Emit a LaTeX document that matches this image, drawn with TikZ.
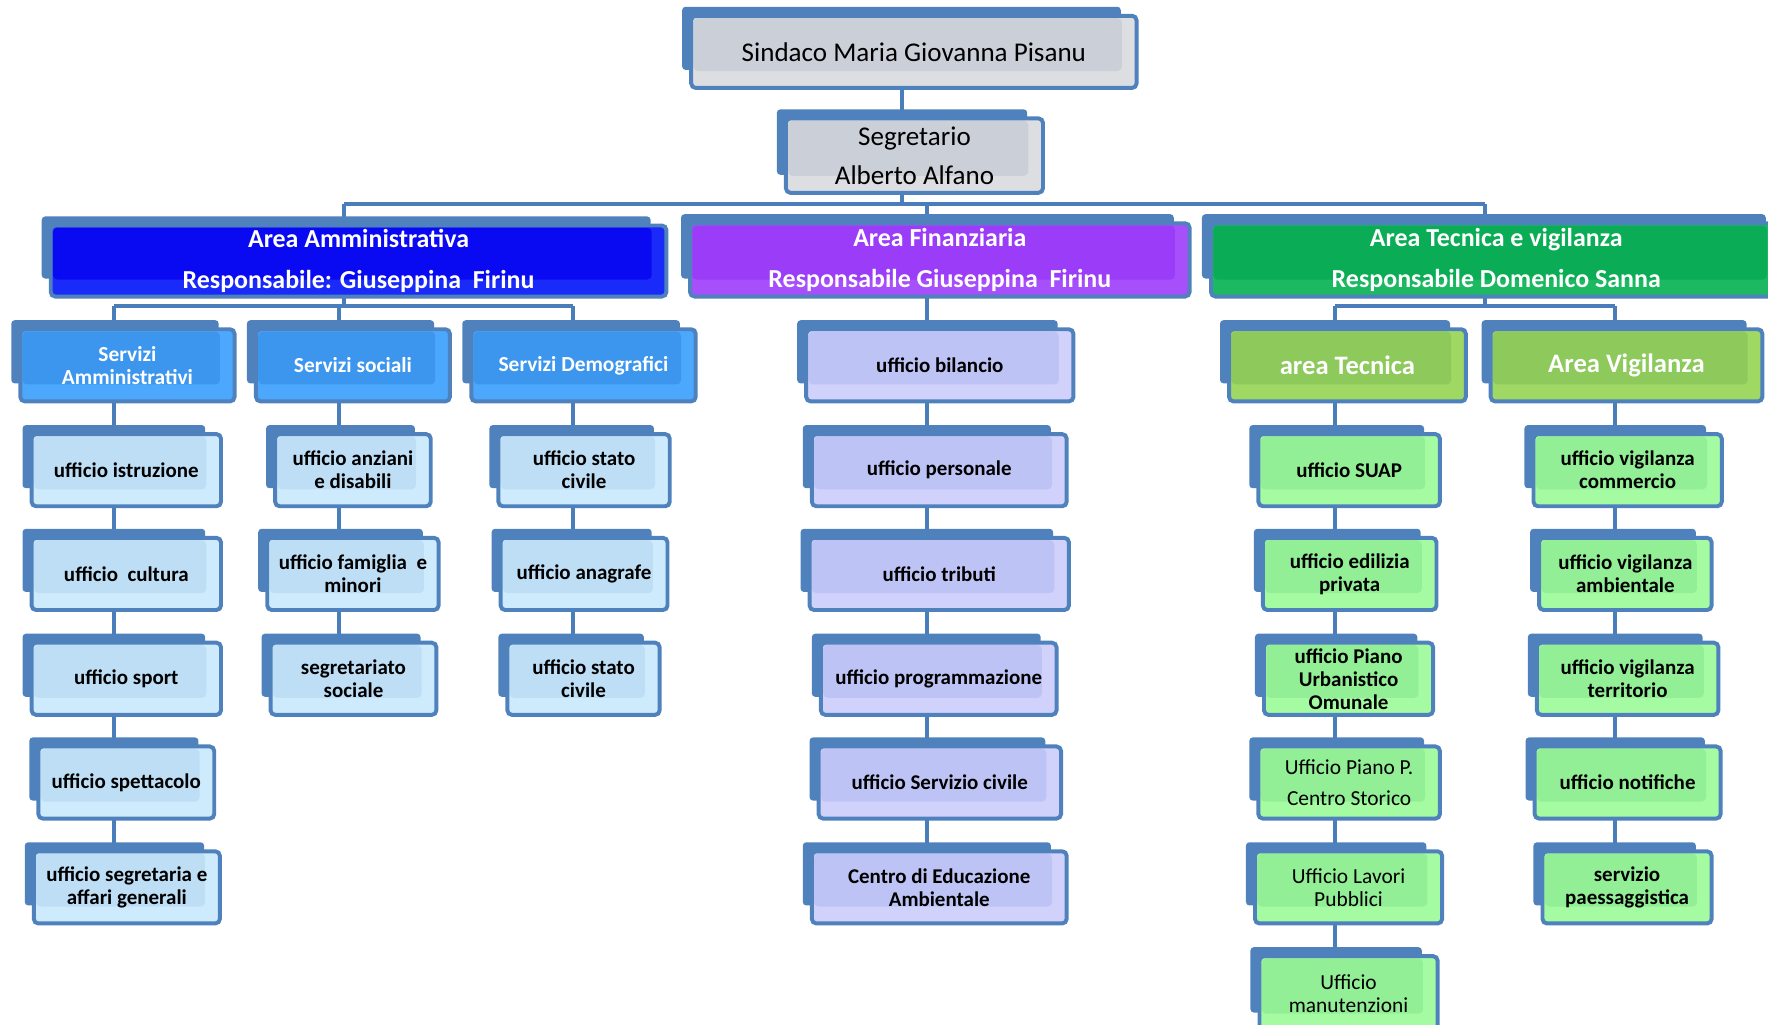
\documentclass[tikz,border=0pt]{standalone}
\usepackage{fontspec}
\setmainfont{Carlito}
\pgfdeclarelayer{bg}
\pgfsetlayers{bg,main}
\definecolor{bkc}{HTML}{4F81BD}
\definecolor{cnc}{HTML}{4A7EBB}
\definecolor{grO}{HTML}{DCDEE2}\definecolor{grI}{HTML}{CBD0D8}
\definecolor{amO}{HTML}{1A2AF8}\definecolor{amI}{HTML}{0A0AF2}
\definecolor{fiO}{HTML}{A64FFA}\definecolor{fiI}{HTML}{9A3CF8}
\definecolor{teO}{HTML}{1CB862}\definecolor{teI}{HTML}{0AAD55}
\definecolor{svO}{HTML}{4CA8FC}\definecolor{svI}{HTML}{3C96EE}
\definecolor{lbO}{HTML}{CDEBFC}\definecolor{lbI}{HTML}{BDDEF5}
\definecolor{puO}{HTML}{D0D2FB}\definecolor{puI}{HTML}{BEC3F5}
\definecolor{lgO}{HTML}{A4FBA2}\definecolor{lgI}{HTML}{92EF95}
\definecolor{agO}{HTML}{A0D864}\definecolor{agI}{HTML}{8DC95B}
\tikzset{
  scheme/.style 2 args={fill=#1, path picture={\fill[#2] ([xshift=1pt,yshift=-1pt]path picture bounding box.north west) rectangle ([xshift=-6.5pt,yshift=7.5pt]path picture bounding box.south east);}},
  gry/.style={scheme={grO}{grI}},
  amm/.style={scheme={amO}{amI}},
  fin/.style={scheme={fiO}{fiI}},
  tec/.style={scheme={teO}{teI}},
  srv/.style={scheme={svO}{svI}},
  lb/.style={scheme={lbO}{lbI}},
  pu/.style={scheme={puO}{puI}},
  lg/.style={scheme={lgO}{lgI}},
  ag/.style={scheme={agO}{agI}},
  obx/.style={draw=bkc, line width=1.75pt, rounded corners=2pt, inner sep=0pt, align=center, text=black},
  fsind/.style={font=\fontsize{12}{17.5}\selectfont},
  fhead/.style={text=white, font=\bfseries\fontsize{11.5}{18.5}\selectfont},
  fsrv/.style={text=white, font=\bfseries\fontsize{9.5}{10}\selectfont},
  fag/.style={text=white, font=\bfseries\fontsize{11.8}{14}\selectfont},
  fof/.style={font=\bfseries\fontsize{9.3}{10.2}\selectfont},
  foff/.style={font=\fontsize{9.5}{10.2}\selectfont},
  fpp/.style={font=\fontsize{9.5}{14}\selectfont},
  conn/.style={draw=cnc, line width=1.75pt},
}
\newcommand\obox[7]{%
  \fill[bkc,rounded corners=1.5pt] ({#2-8},{#3-8}) rectangle ({#4-14},{#5-16});
  \pgfmathsetmacro\ww{(#4-#2)*0.5}%
  \pgfmathsetmacro\hh{(#5-#3)*0.5}%
  \node[obx,#6,minimum width=\ww pt,minimum height=\hh pt] (#1) at ({(#2+#4)/2},{(#3+#5)/2}) {#7};%
}
\begin{document}
\begin{tikzpicture}[x=0.5pt,y=-0.5pt]
\useasboundingbox (0,0) rectangle (1568,909);
% top
\obox{sind}{613}{14}{1008}{78}{gry,fsind}{Sindaco Maria Giovanna Pisanu}
\obox{segr}{697}{105}{925}{171}{gry,fsind}{Segretario\\Alberto Alfano}
% areas
\obox{aamm}{45}{200}{591}{263}{amm,fhead}{Area Amministrativa\\Responsabile: Giuseppina\ \ Firinu}
\obox{afin}{612}{198}{1055}{263}{fin,fhead}{Area Finanziaria\\Responsabile Giuseppina\ \ Firinu}
\obox{atec}{1074}{198}{1580}{263}{tec,fhead}{Area Tecnica e vigilanza\\Responsabile Domenico Sanna}
% second level
\obox{sAmm}{18}{292}{208}{356}{srv,fsrv}{Servizi\\Amministrativi}
\obox{sSoc}{227}{292}{399}{356}{srv,fsrv}{Servizi sociali}
\obox{sDem}{418}{292}{617}{356}{srv,fsrv}{Servizi Demografici}
\obox{bil}{715}{292}{952}{356}{pu,fof}{ufficio bilancio}
\obox{aTec}{1090}{292}{1300}{356}{ag,fag}{area Tecnica}
\obox{aVig}{1322}{292}{1563}{356}{ag,fag}{Area Vigilanza}
% column A
\obox{istr}{28}{385}{196}{449}{lb,fof}{ufficio istruzione}
\obox{cult}{28}{477}{196}{541}{lb,fof}{ufficio\ \ cultura}
\obox{sport}{28}{570}{196}{634}{lb,fof}{ufficio sport}
\obox{spett}{34}{662}{190}{726}{lb,fof}{ufficio spettacolo}
\obox{segen}{30}{755}{195}{819}{lb,fof}{ufficio segretaria e\\affari generali}
% column B
\obox{anz}{244}{385}{382}{449}{lb,fof}{ufficio anziani\\e disabili}
\obox{fam}{237}{477}{389}{541}{lb,fof}{ufficio famiglia\ \ e\\minori}
\obox{segsoc}{240}{570}{387}{634}{lb,fof}{segretariato\\sociale}
% column C
\obox{stc}{442}{385}{594}{449}{lb,fof}{ufficio stato\\civile}
\obox{anag}{444}{477}{592}{541}{lb,fof}{ufficio anagrafe}
\obox{stcb}{450}{570}{585}{634}{lb,fof}{ufficio stato\\civile}
% column F
\obox{pers}{720}{385}{946}{449}{pu,fof}{ufficio personale}
\obox{trib}{718}{477}{948}{541}{pu,fof}{ufficio tributi}
\obox{prog}{728}{570}{937}{634}{pu,fof}{ufficio programmazione}
\obox{sciv}{726}{662}{941}{726}{pu,fof}{ufficio Servizio civile}
\obox{ced}{720}{755}{946}{819}{pu,fof}{Centro di Educazione\\Ambientale}
% column T
\obox{suap}{1116}{385}{1277}{449}{lg,fof}{ufficio SUAP}
\obox{edil}{1120}{477}{1274}{541}{lg,fof}{ufficio edilizia\\privata}
\obox{puc}{1121}{570}{1271}{634}{lg,fof}{ufficio Piano\\Urbanistico\\Omunale}
\obox{pps}{1116}{662}{1277}{726}{lg,fpp}{Ufficio Piano P.\\Centro Storico}
\obox{llpp}{1113}{755}{1279}{819}{lg,foff}{Ufficio Lavori\\Pubblici}
\obox{manu}{1117}{848}{1275}{914}{lg,foff}{Ufficio\\manutenzioni}
% column V
\obox{vcom}{1360}{385}{1527}{449}{lg,fof}{ufficio vigilanza\\commercio}
\obox{vamb}{1365}{477}{1518}{541}{lg,fof}{ufficio vigilanza\\ambientale}
\obox{vter}{1363}{570}{1524}{634}{lg,fof}{ufficio vigilanza\\territorio}
\obox{notif}{1361}{662}{1526}{726}{lg,fof}{ufficio notifiche}
\obox{paes}{1368}{755}{1518}{819}{lg,fof}{servizio\\paessaggistica}
% connectors
\coordinate (xTop) at (800,0);
\coordinate (busL) at (305,181);
\coordinate (busM) at (800,181);
\coordinate (busF) at (822,181);
\coordinate (busR) at (1317,181);
\coordinate (ammM) at (305,271);
\coordinate (ammL) at (101,271);
\coordinate (ammC) at (301,271);
\coordinate (ammR) at (508,271);
\coordinate (tecM) at (1317,271);
\coordinate (tecL) at (1184,271);
\coordinate (tecR) at (1432,271);
\begin{pgfonlayer}{bg}
\draw[conn] (sind.center -| xTop) -- (segr.center -| xTop) -- (busM);
\draw[conn] (busL) -- (busR);
\draw[conn] (busL) -- (aamm.center -| busL) -- (ammM);
\draw[conn] (busF) -- (afin.center -| busF) -- (bil.center -| busF) -- (ced.center -| busF);
\draw[conn] (busR) -- (atec.center -| busR) -- (tecM);
\draw[conn] (ammL) -- (ammR);
\draw[conn] (ammL) -- (sAmm.center -| ammL) -- (segen.center -| ammL);
\draw[conn] (ammC) -- (sSoc.center -| ammC) -- (segsoc.center -| ammC);
\draw[conn] (ammR) -- (sDem.center -| ammR) -- (stcb.center -| ammR);
\draw[conn] (tecL) -- (tecR);
\draw[conn] (tecL) -- (aTec.center -| tecL) -- (manu.center -| tecL);
\draw[conn] (tecR) -- (aVig.center -| tecR) -- (paes.center -| tecR);
\end{pgfonlayer}
\end{tikzpicture}
\end{document}
